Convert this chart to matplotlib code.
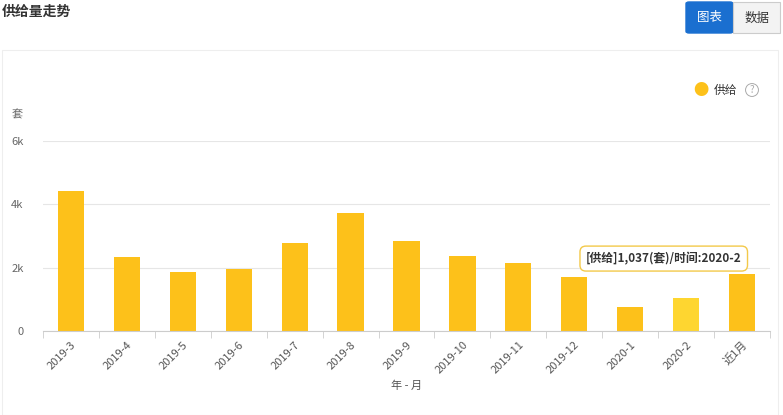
import matplotlib.pyplot as plt
from matplotlib.patches import FancyBboxPatch, Rectangle

plt.rcParams['font.family'] = ['Noto Sans CJK SC', 'DejaVu Sans']

months = ['2019-3', '2019-4', '2019-5', '2019-6', '2019-7', '2019-8', '2019-9',
          '2019-10', '2019-11', '2019-12', '2020-1', '2020-2', '近1月']
supply = [4420, 2340, 1860, 1960, 2780, 3730, 2840, 2370, 2150, 1700, 760, 1037, 1800]
yticks = [0, 2000, 4000, 6000]
ytick_labels = ['0', '2k', '4k', '6k']

W, H = 783, 415
fig = plt.figure(figsize=(W / 100, H / 100), dpi=100)

# page decorations
fig.text(2 / W, 1 - 12 / H, '供给量走势', fontsize=10, fontweight='bold', va='center', color='#333333')
fig.patches.append(FancyBboxPatch((686 / W, 1 - 33 / H), 47 / W, 31 / H, boxstyle='round,pad=0,rounding_size=0.004',
                                  transform=fig.transFigure, fc='#1a6fd0', ec='#1a6fd0'))
fig.patches.append(Rectangle((733 / W, 1 - 33 / H), 47 / W, 31 / H, transform=fig.transFigure,
                             fc='#f3f3f3', ec='#cccccc', lw=0.8))
fig.text(709 / W, 1 - 18 / H, '图表', fontsize=9, color='white', ha='center', va='center')
fig.text(757 / W, 1 - 18 / H, '数据', fontsize=9, color='#333333', ha='center', va='center')
fig.patches.append(Rectangle((2 / W, 0), 776 / W, 1 - 50 / H, transform=fig.transFigure,
                             fc='none', ec='#eeeeee', lw=0.8))

ax = fig.add_axes([43 / W, 1 - 331 / H, 727 / W, 190 / H])
colors = ['#fdc11a'] * len(months)
colors[11] = '#fed630'
x = range(len(months))
ax.bar(x, supply, width=0.47, color=colors, zorder=2)
ax.set_xlim(-0.5, len(months) - 0.5)
ax.set_ylim(0, 6000)
ax.set_yticks(yticks)
ax.set_yticklabels(ytick_labels, fontsize=8, color='#666666')
ax.set_xticks(x)
ax.set_xticklabels(months, rotation=45, ha='right', rotation_mode='anchor', fontsize=8, color='#555555')
ax.set_xticks([i - 0.5 for i in range(len(months) + 1)], minor=True)
ax.tick_params(axis='x', which='major', length=0, pad=6)
ax.tick_params(axis='x', which='minor', length=5, color='#cccccc')
ax.tick_params(axis='y', length=0, pad=14)
ax.grid(axis='y', color='#e6e6e6', lw=0.8, zorder=0)
for s in ['top', 'right', 'left']:
    ax.spines[s].set_visible(False)
ax.spines['bottom'].set_color('#cccccc')
ax.text(-0.035, 1.12, '套', transform=ax.transAxes, fontsize=8, color='#666666', ha='center')
ax.set_xlabel('年 - 月', fontsize=8, color='#555555', labelpad=4)

# legend
fig.text(701 / W, 1 - 90 / H, '●', fontsize=11, color='#fdc11a', ha='center', va='center')
fig.text(714 / W, 1 - 90 / H, '供给', fontsize=8.5, color='#333333', va='center')
fig.text(752 / W, 1 - 90 / H, '?', fontsize=7, color='#aaaaaa', va='center', ha='center',
         bbox=dict(boxstyle='circle,pad=0.15', fc='white', ec='#aaaaaa', lw=0.7))

# tooltip
ax.annotate('[供给]1,037(套)/时间:2020-2', xy=(11, supply[11]), xytext=(11 - 0.4, supply[11] + 1250),
            fontsize=8.5, fontweight='bold', color='#333333', ha='center', va='center', zorder=5,
            bbox=dict(boxstyle='round,pad=0.5', fc='white', ec='#f3c94a', lw=1))

fig.savefig('out.png', dpi=100)
